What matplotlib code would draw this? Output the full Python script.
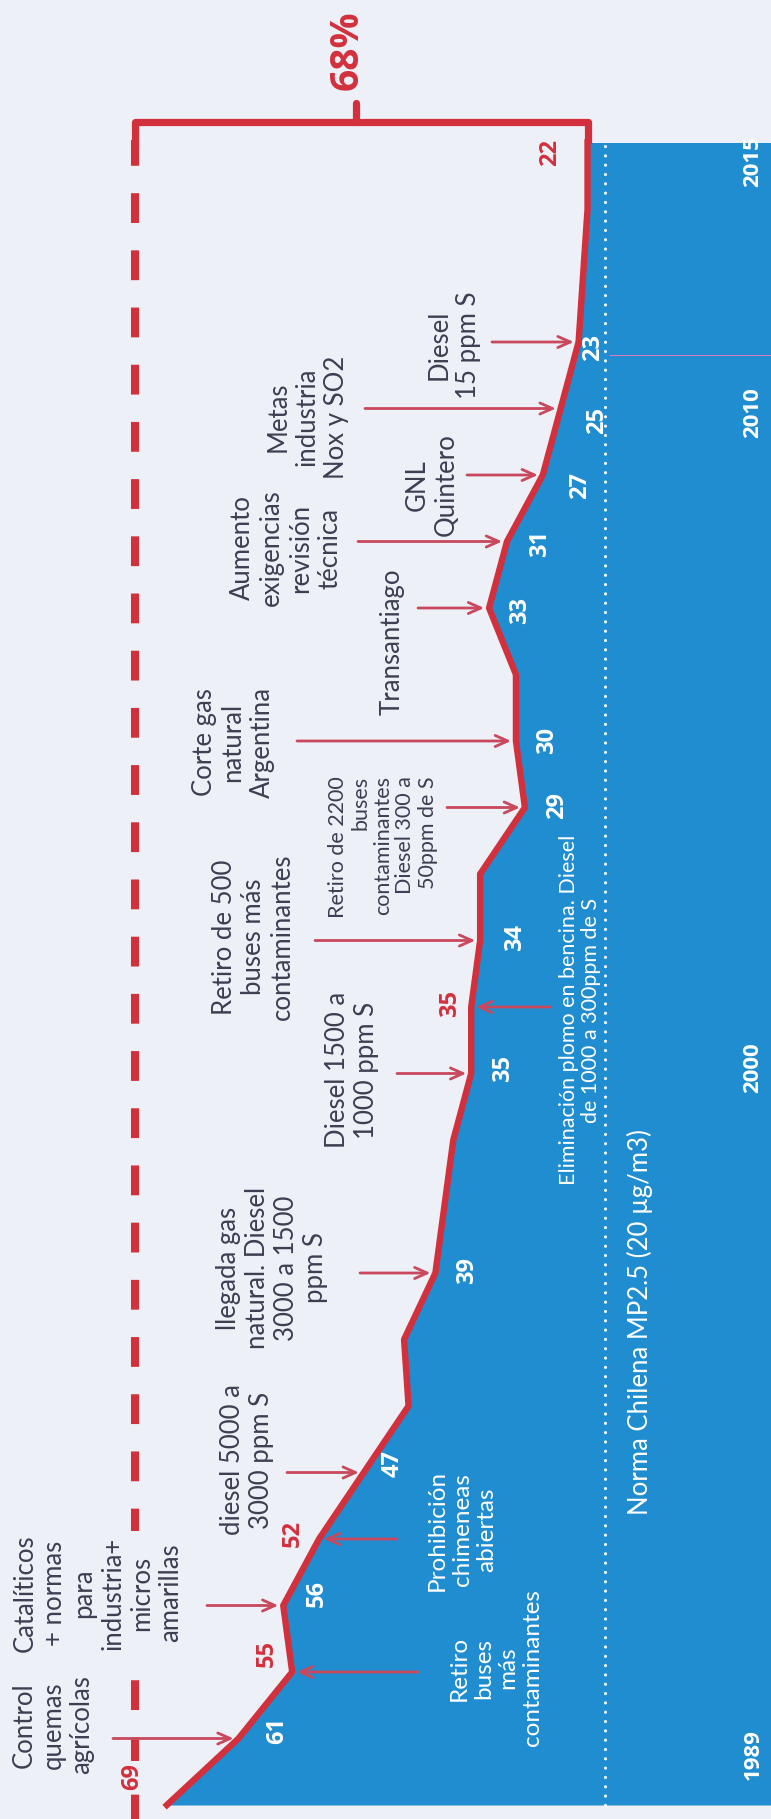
import matplotlib
matplotlib.use("Agg")
import matplotlib.pyplot as plt

# ---------------- data ----------------
years = list(range(1989, 2015))
values = [69, 61, 55, 56, 52, 47, 42, 42.5, 39, 38, 37, 35, 35, 34, 34,
          29, 30, 30, 33, 31, 27, 25, 23, 22.5, 22, 22]
norma_value = 20
year_ticks = ["1989", "2000", "2010", "2015"]

white_labels = [(1990, "61"), (1992, "56"), (1994, "47"), (1997, "39"), (2000, "35"),
                (2002, "34"), (2004, "29"), (2005, "30"), (2007, "33"), (2008, "31"),
                (2009, "27"), (2010, "25"), (2011, "23")]
red_labels = [(1989, "69"), (1991, "55"), (1993, "52"), (2001, "35"), (2014, "22")]

# ---------------- styling ----------------
RED = '#d2303c'
ARROW = '#c9485c'
BLUE = '#1f8dcf'
BG = '#edf0f7'
TXT = '#3c3e52'
plt.rcParams['font.family'] = ['Lato', 'DejaVu Sans']
NUMFONT = ['Open Sans', 'DejaVu Sans']

W, H = 771, 1819
fig = plt.figure(figsize=(W / 100, H / 100), dpi=100, facecolor=BG)
ax = fig.add_axes([0, 0, 1, 1])
ax.set_facecolor(BG)


def X(px):
    return 37.29 - (px - 450.7) / 8.95


def Y(py):
    return 1989 + (1805 - py) / 66.5


ax.set_xlim(X(0), X(W))
ax.set_ylim(Y(H), Y(0))
ax.axis('off')

val = dict(zip(years, values))

# blue area and red line
ax.fill_betweenx(years, values, X(W + 10), color=BLUE, zorder=1, linewidth=0)
ax.plot(values, years, color=RED, lw=4.6, solid_joinstyle='round', zorder=5)

# Norma line (dotted white)
ax.plot([norma_value, norma_value], [years[0], years[-1]], color='white', lw=2.2,
        linestyle=(0, (0.05, 3.0)), dash_capstyle='round', zorder=3)
ax.plot([X(610), X(W)], [Y(355), Y(355)], color='#e27bb8', lw=0.7, zorder=2)

# 68% bracket
ax.plot([X(135), X(135), val[2014], val[2014]], [Y(150), Y(122), Y(122), years[-1]],
        color=RED, lw=5.2, solid_joinstyle='round', solid_capstyle='butt', zorder=6)
ax.plot([X(135), X(135)], [Y(140), Y(H)], color=RED, lw=5.8,
        linestyle=(0.5, (3.7, 3.4)), zorder=2)
ax.plot([X(356), X(356)], [Y(103), Y(122)], color=RED, lw=5.2, solid_capstyle='round', zorder=6)
ax.text(X(347), Y(50), "68%", rotation=90, ha='center', va='center', color=RED,
        fontsize=28, fontweight='bold', family=NUMFONT, zorder=7)

# year labels
for lab, py in zip(year_ticks, [1755, 1068, 413, 162]):
    ax.text(X(753), Y(py), lab, rotation=90, ha='center', va='center', color='white',
            fontsize=16, fontweight='bold', family=NUMFONT, zorder=7)

# value labels
wl_pos = {1990: (277, 1730), 1992: (317, 1593), 1994: (393, 1463), 1997: (467, 1270),
          2000: (503, 1068), 2002: (515, 937), 2004: (557, 805), 2005: (547, 740),
          2007: (520, 610), 2008: (540, 543), 2009: (580, 485), 2010: (597, 420),
          2011: (593, 347)}
rl_pos = {1989: (132, 1776), 1991: (267, 1653), 1993: (293, 1533), 2001: (450, 1003),
          2014: (550, 152)}
for yr, lab in white_labels:
    px, py = wl_pos[yr]
    ax.text(X(px), Y(py), lab, rotation=90, ha='center', va='center', color='white',
            fontsize=17, fontweight='bold', family=NUMFONT, zorder=7)
for yr, lab in red_labels:
    px, py = rl_pos[yr]
    kw = {}
    if yr == 1989:
        kw['bbox'] = dict(facecolor=BG, edgecolor='none', pad=1.0)
    ax.text(X(px), Y(py), lab, rotation=90, ha='center', va='center', color=RED,
            fontsize=17, fontweight='bold', family=NUMFONT, zorder=7, **kw)

# arrows: (year, start pixel x)
arrows_left = [(1990, 113), (1992, 207), (1994, 287), (1997, 360), (2000, 397),
               (2002, 315), (2004, 447), (2005, 297), (2007, 418), (2008, 358),
               (2009, 467), (2010, 365), (2011, 492)]
arrows_right = [(1991, 418), (1993, 397), (2001, 550)]
aprops = dict(arrowstyle='->,head_length=0.9,head_width=0.4', color=ARROW, lw=2.0,
              shrinkA=0, shrinkB=3.5)
for yr, sx in arrows_left + arrows_right:
    ax.annotate("", xy=(val[yr], yr), xytext=(X(sx), yr), arrowprops=aprops, zorder=4)

# annotation texts
BIG = 18.5
SMALL = 15.5
WHITE = 17.5
texts = [
    ("Control\nquemas\nagrícolas", 53, 1725, BIG, TXT, 'center', True),
    ("Catalíticos\n+ normas\npara\nindustria+\nmicros\namarillas", 98, 1593, BIG, TXT, 'center', True),
    ("diesel 5000 a\n3000 ppm S", 247, 1460, BIG, TXT, 'center', False),
    ("llegada gas\nnatural. Diesel\n3000 a 1500\nppm S", 272, 1268, BIG, TXT, 'center', False),
    ("Diesel 1500 a\n1000 ppm S", 352, 1070, BIG, TXT, 'center', False),
    ("Retiro de 500\nbuses más\ncontaminantes", 253, 937, BIG, TXT, 'center', False),
    ("Retiro de 2200\nbuses\ncontaminantes\nDiesel 300 a\n50ppm de S", 383, 847, SMALL, TXT, 'right', False),
    ("Corte gas\nnatural\nArgentina", 233, 742, BIG, TXT, 'center', False),
    ("Transantiago", 392, 642, BIG, TXT, 'center', False),
    ("Aumento\nexigencias\nrevisión\ntécnica", 286, 548, BIG, TXT, 'center', False),
    ("Metas\nindustria\nNox y SO2", 307, 417, BIG, TXT, 'center', False),
    ("GNL\nQuintero", 432, 485, BIG, TXT, 'center', False),
    ("Diesel\n15 ppm S", 454, 345, BIG, TXT, 'center', False),
    ("Retiro\nbuses\nmás\ncontaminantes", 496, 1668, WHITE, 'white', 'center', False),
    ("Prohibición\nchimeneas\nabiertas", 462, 1530, WHITE, 'white', 'center', False),
    ("Eliminación plomo en bencina. Diesel\nde 1000 a 300ppm de S", 580, 1010, SMALL, 'white', 'center', False),
    ("Norma Chilena MP2.5 (20 µg/m3)", 640, 1322, BIG, 'white', 'center', False),
]
for s, px, py, fs, col, ma, mask in texts:
    kw = {}
    if mask:
        kw['bbox'] = dict(facecolor=BG, edgecolor='none', pad=2)
    ls = 1.15 if fs == SMALL else 1.2
    ax.text(X(px), Y(py), s, rotation=90, ha='center', va='center', color=col,
            fontsize=fs, multialignment=ma, linespacing=ls, zorder=7, **kw)

fig.savefig("out.png", dpi=100, facecolor=BG)
